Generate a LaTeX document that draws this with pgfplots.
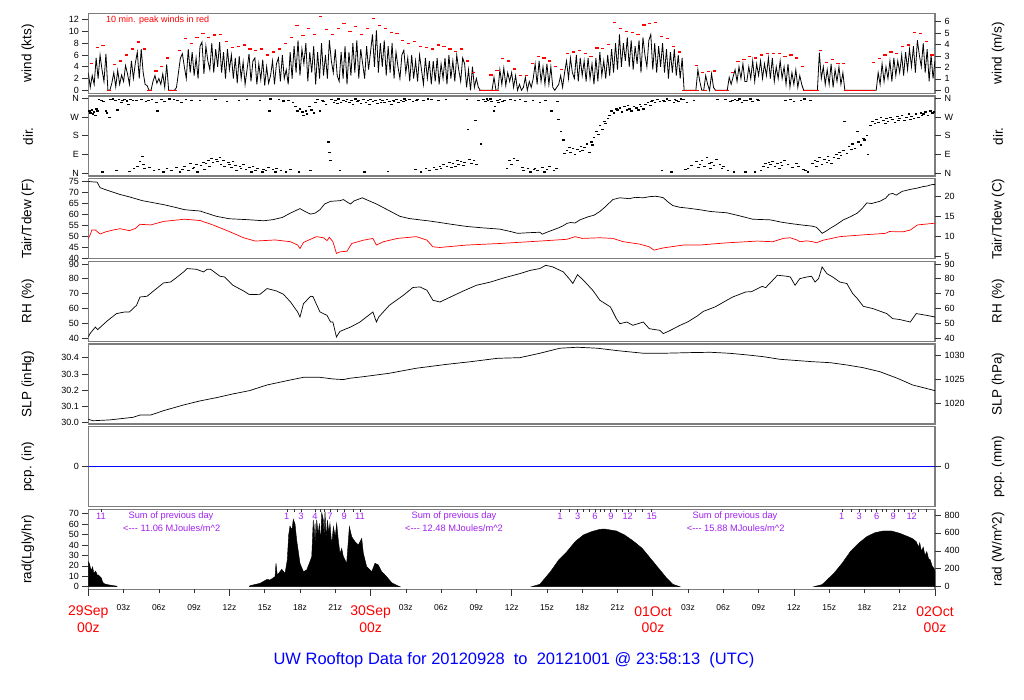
\documentclass[border=0pt]{standalone}
\usepackage{fontspec}
\setmainfont{Liberation Sans}
\usepackage{pgfplots}
\usepackage{pgfplotstable}
\pgfplotsset{compat=1.18}
\definecolor{framegray}{RGB}{125,125,125}
\definecolor{purp}{RGB}{160,32,240}
\newcommand\tf{\fontsize{9}{10}\selectfont}
\newcommand\lf{\fontsize{13.5}{15}\selectfont}
\pgfplotsset{
 base/.style={scale only axis, width=846.7pt, height=80pt, xmin=0, xmax=72, anchor=south west,
   enlargelimits=false, scaled y ticks=false, tick align=outside, major tick length=6pt,
   tick style={black!80, line width=0.6pt}, /pgf/number format/assume math mode=true,
   /pgf/number format/1000 sep={}, ticklabel style={font=\tf}},
 lpanel/.style={base, axis line style={framegray, line width=1.4pt}, xtick=\empty, ytick pos=left},
 rpanel/.style={base, hide x axis, axis y line*=right, axis line style={draw=none}},
 peak/.style={red, only marks, mark=-, mark size=1.6pt, mark options={line width=1.3pt}},
 zline/.style={red, line width=1.4pt},
}
\pgfplotstableread[row sep=\\]{v\\
3.0\\ 0.5\\ 2.5\\ 1.0\\ 5.5\\ 2.0\\
6.0\\ 3.5\\ 1.5\\ 6.2\\ 0\\ 0\\
1.2\\ 3.0\\ 0.6\\ 3.4\\ 1.0\\ 2.6\\
1.5\\ 4.2\\ 2.8\\ 1.0\\ 5.0\\ 2.0\\
4.6\\ 6.5\\ 2.0\\ 7.0\\ 3.0\\ 1.0\\
0.8\\ 0\\ 0\\ 1.5\\ 2.5\\ 1.2\\
2.0\\ 1.0\\ 2.8\\ 0.5\\ 4.4\\ 0\\
0\\ 0\\ 0\\ 0.5\\ 3.0\\ 5.5\\
6.2\\ 4.0\\ 2.0\\ 7.0\\ 3.0\\ 6.5\\
2.5\\ 5.5\\ 2.0\\ 7.5\\ 8.2\\ 2.8\\
7.5\\ 5.0\\ 3.5\\ 8.0\\ 3.0\\ 7.0\\
4.0\\ 8.2\\ 3.0\\ 6.5\\ 2.0\\ 7.0\\
3.5\\ 6.0\\ 2.0\\ 5.5\\ 1.2\\ 5.8\\
2.0\\ 4.8\\ 1.0\\ 3.5\\ 6.2\\ 1.5\\
5.0\\ 5.5\\ 1.0\\ 4.5\\ 1.8\\ 5.2\\
0.8\\ 4.0\\ 1.2\\ 2.5\\ 5.0\\ 1.0\\
4.5\\ 5.5\\ 1.5\\ 6.0\\ 2.0\\ 3.5\\
1.0\\ 6.5\\ 2.0\\ 7.5\\ 3.0\\ 8.5\\
2.5\\ 7.0\\ 4.5\\ 8.0\\ 1.5\\ 6.5\\
3.0\\ 7.5\\ 1.0\\ 6.5\\ 2.0\\ 8.0\\
2.5\\ 6.0\\ 2.0\\ 8.5\\ 5.0\\ 3.0\\
7.0\\ 2.5\\ 1.5\\ 6.5\\ 2.0\\ 7.5\\
1.0\\ 6.5\\ 2.5\\ 8.0\\ 3.0\\ 8.5\\
2.0\\ 7.0\\ 4.5\\ 2.0\\ 7.5\\ 3.5\\
6.5\\ 9.5\\ 4.0\\ 10.2\\ 3.0\\ 8.0\\
4.0\\ 8.5\\ 2.5\\ 7.5\\ 3.0\\ 8.0\\
2.0\\ 6.5\\ 4.0\\ 2.0\\ 6.0\\ 6.8\\
3.0\\ 5.5\\ 1.5\\ 6.0\\ 2.0\\ 5.0\\
1.5\\ 6.0\\ 3.5\\ 1.0\\ 5.5\\ 2.0\\
5.0\\ 1.0\\ 5.0\\ 1.5\\ 5.5\\ 1.0\\
4.5\\ 2.0\\ 5.5\\ 1.0\\ 6.0\\ 2.0\\
5.0\\ 1.5\\ 6.0\\ 3.5\\ 1.5\\ 5.5\\
4.5\\ 0.5\\ 3.5\\ 0\\ 4.0\\ 0.5\\
2.0\\ 0.5\\ 0\\ 0\\ 0\\ 0\\
0\\ 0\\ 0\\ 2.2\\ 0\\ 0\\
3.5\\ 1.0\\ 3.8\\ 0.8\\ 3.0\\ 1.5\\
3.0\\ 0.5\\ 2.5\\ 0\\ 1.0\\ 0\\
0.5\\ 2.2\\ 0\\ 1.5\\ 0.5\\ 2.0\\
4.5\\ 1.0\\ 5.0\\ 1.5\\ 4.0\\ 1.0\\
4.5\\ 1.0\\ 4.0\\ 0.5\\ 0\\ 0.5\\
1.0\\ 2.5\\ 0.5\\ 3.0\\ 5.0\\ 2.0\\
5.5\\ 3.0\\ 2.0\\ 6.0\\ 1.5\\ 5.5\\
2.5\\ 5.0\\ 1.5\\ 5.5\\ 2.0\\ 4.5\\
1.0\\ 5.5\\ 1.5\\ 6.5\\ 2.5\\ 5.0\\
2.0\\ 6.0\\ 2.5\\ 7.0\\ 3.0\\ 8.0\\
3.5\\ 9.5\\ 4.0\\ 8.0\\ 5.0\\ 9.0\\
4.0\\ 8.5\\ 3.5\\ 7.5\\ 4.5\\ 8.5\\
3.0\\ 9.0\\ 6.0\\ 4.0\\ 8.5\\ 9.5\\
3.5\\ 8.0\\ 3.0\\ 7.5\\ 4.0\\ 8.0\\
3.0\\ 7.0\\ 2.0\\ 6.5\\ 3.0\\ 7.0\\
2.5\\ 6.0\\ 2.0\\ 5.5\\ 0\\ 0\\
0\\ 0\\ 0\\ 0\\ 0\\ 3.5\\
1.5\\ 0\\ 0\\ 2.5\\ 1.0\\ 0\\
2.8\\ 0.5\\ 0\\ 0\\ 0\\ 0\\
0\\ 0\\ 0\\ 2.2\\ 1.0\\ 2.3\\
3.5\\ 1.5\\ 4.0\\ 2.0\\ 4.5\\ 1.5\\
1.5\\ 4.0\\ 2.0\\ 5.0\\ 1.5\\ 4.5\\
2.5\\ 5.0\\ 2.0\\ 4.5\\ 2.5\\ 5.5\\
2.0\\ 5.5\\ 1.5\\ 4.0\\ 2.0\\ 5.0\\
2.0\\ 4.0\\ 1.0\\ 4.5\\ 0.5\\ 3.0\\
1.0\\ 3.5\\ 0.5\\ 2.5\\ 1.0\\ 0\\
0\\ 0\\ 0\\ 0\\ 0\\ 0\\
0\\ 6.4\\ 2.0\\ 4.0\\ 1.0\\ 3.5\\
1.0\\ 4.5\\ 0.5\\ 3.5\\ 1.5\\ 4.0\\
1.0\\ 3.0\\ 0\\ 0\\ 0\\ 0\\
0\\ 0\\ 0\\ 0\\ 0\\ 0\\
0\\ 0\\ 0\\ 0\\ 0\\ 0\\
0\\ 3.0\\ 1.0\\ 4.5\\ 1.5\\ 4.0\\
2.0\\ 5.0\\ 1.5\\ 5.5\\ 2.5\\ 5.0\\
3.0\\ 6.0\\ 2.5\\ 6.5\\ 3.5\\ 7.0\\
4.0\\ 7.5\\ 3.0\\ 8.5\\ 6.0\\ 4.0\\
8.0\\ 3.0\\ 7.0\\ 1.5\\ 6.0\\ 2.0\\
5.0\\
}\windtab
\begin{document}
\begin{tikzpicture}
\path[use as bounding box] (0,0) rectangle (1024pt,700pt);
% ---------------- Panel 1: wind
\begin{axis}[lpanel, at={(88.3pt,606.7pt)}, ymin=-0.51, ymax=13.09, ytick={0,2,...,12}]
\addplot[black, line width=0.8pt] table[x expr=\coordindex/6, y index=0] \windtab;
\addplot[zline] coordinates {(1.6,0)(1.9,0)};
\addplot[zline] coordinates {(5.0,0)(5.4,0)};
\addplot[zline] coordinates {(6.8,0)(7.5,0)};
\addplot[zline] coordinates {(33.2,0)(34.9,0)};
\addplot[zline] coordinates {(50.5,0)(51.9,0)};
\addplot[zline] coordinates {(52.3,0)(52.6,0)};
\addplot[zline] coordinates {(53.3,0)(54.5,0)};
\addplot[zline] coordinates {(60.8,0)(62.1,0)};
\addplot[zline] coordinates {(64.3,0)(66.9,0)};
\addplot[peak] coordinates {
(0.25,4.6)(0.75,7.3)(1.25,7.6)(2.25,4.4)(2.75,5.0)(3.25,6.0)(3.75,7.0)(4.25,8.2)(4.75,7.0)(5.75,3.3)
(6.25,4.0)(6.75,5.5)(7.75,6.8)(8.25,8.8)(8.75,8.0)(9.25,9.0)(9.75,9.6)(10.25,9.0)(10.75,9.4)(11.25,9.5)
(11.75,8.3)(12.25,7.3)(12.75,7.5)(13.25,7.7)(13.75,7.0)(14.25,6.8)(14.75,7.0)(15.25,6.0)(15.75,6.5)(16.25,7.0)
(16.75,8.0)(17.25,9.0)(17.75,11.0)(18.25,9.3)(18.75,10.5)(19.25,9.5)(19.75,12.6)(20.25,10.3)(20.75,9.5)(21.25,10.5)
(21.75,11.4)(22.25,10.0)(22.75,10.9)(23.25,9.5)(23.75,10.5)(24.25,12.2)(24.75,11.0)(25.25,10.5)(25.75,9.8)(26.25,9.6)
(26.75,8.5)(27.25,8.0)(27.75,8.3)(28.25,7.5)(28.75,7.3)(29.25,7.0)(29.75,7.7)(30.25,7.5)(30.75,7.0)(31.25,6.6)
(31.75,7.0)(32.25,5.0)(32.75,3.0)(34.25,2.6)(34.75,3.4)(35.25,5.4)(35.75,5.0)(36.25,3.6)(36.75,2.5)(37.25,2.5)
(37.75,4.5)(38.25,5.7)(38.75,5.5)(39.25,5.0)(39.75,4.0)(40.25,3.5)(40.75,6.3)(41.25,6.5)(41.75,6.8)(42.25,6.3)
(42.75,5.7)(43.25,7.2)(43.75,7.1)(44.25,7.8)(44.75,11.5)(45.25,10.5)(45.75,10.0)(46.25,9.8)(46.75,9.5)(47.25,11.1)
(47.75,11.4)(48.25,11.5)(48.75,9.1)(49.25,8.8)(49.75,7.5)(50.25,6.5)(51.75,4.2)(52.25,3.0)(52.75,3.2)(53.25,3.3)
(54.75,3.0)(55.25,4.9)(55.75,5.2)(56.25,5.8)(56.75,5.5)(57.25,6.0)(57.75,6.2)(58.25,6.3)(58.75,6.3)(59.25,5.7)
(59.75,6.0)(60.25,5.5)(60.75,4.0)(62.25,6.8)(62.75,4.7)(63.25,5.2)(63.75,4.6)(64.25,4.6)(66.75,4.7)(67.25,5.4)
(67.75,6.0)(68.25,6.5)(68.75,6.3)(69.25,7.4)(69.75,7.7)(70.25,9.8)(70.75,9.7)(71.25,8.3)(71.75,6.0)};
\end{axis}
\begin{axis}[rpanel, at={(88.3pt,606.7pt)}, ymin=-0.262, ymax=6.734, ytick={0,1,...,6}]
\addplot[draw=none] coordinates {(0,0)};
\end{axis}
% ---------------- Panel 2: direction
\begin{axis}[lpanel, at={(88.3pt,524pt)}, ymin=-14.7, ymax=372.7, ytick={0,90,180,270,360}, yticklabels={N,E,S,W,N}]
\addplot[black, only marks, mark=-, mark size=1.3pt, mark options={line width=1.2pt}] coordinates {
(0.1,300)(0.2,290)(0.3,305)(0.4,285)(0.5,295)(0.6,280)(0.7,310)(0.8,300)(0.9,355)
(1.1,350)(1.2,5)(1.3,345)(1.5,300)(1.6,290)(1.8,270)(1.9,355)
(2.1,358)(2.3,350)(2.4,10)(2.5,305)(2.6,355)(2.8,340)(2.9,352)
(3.1,355)(3.3,348)(3.4,330)(3.5,8)(3.6,357)(3.8,352)(3.9,20)
(4.1,350)(4.2,30)(4.4,55)(4.5,355)(4.6,80)(4.7,40)(4.8,20)(4.9,345)
(5.1,350)(5.2,25)(5.4,356)(5.6,10)(5.8,340)(5.9,300)
(6.0,15)(6.2,355)(6.4,5)(6.5,345)(6.7,20)(6.9,358)
(7.1,10)(7.3,355)(7.5,25)(7.6,350)(7.8,5)(7.9,340)
(8.0,15)(8.2,30)(8.3,356)(8.5,10)(8.7,45)(8.8,352)(8.9,20)
(9.0,25)(9.2,40)(9.3,5)(9.5,350)(9.6,35)(9.8,50)(9.9,15)
(10.0,45)(10.2,60)(10.3,30)(10.5,70)(10.6,50)(10.8,355)(10.9,65)
(11.0,55)(11.2,75)(11.3,40)(11.5,60)(11.6,30)(11.8,345)(11.9,50)
(12.0,40)(12.2,25)(12.3,55)(12.5,35)(12.6,10)(12.8,350)(12.9,30)
(13.0,20)(13.2,40)(13.4,15)(13.5,355)(13.7,25)(13.9,5)
(14.0,30)(14.2,10)(14.4,20)(14.6,350)(14.8,5)(14.9,15)
(15.1,10)(15.3,25)(15.4,300)(15.5,358)(15.7,15)(15.9,5)
(16.0,20)(16.2,355)(16.4,10)(16.6,348)(16.8,5)
(17.0,350)(17.2,15)(17.4,340)(17.6,320)(17.8,300)(17.9,5)
(18.0,310)(18.2,295)(18.3,280)(18.5,300)(18.6,285)(18.8,320)(18.9,10)
(19.0,305)(19.2,290)(19.3,340)(19.5,355)(19.7,300)(19.9,350)
(20.0,345)(20.2,330)(20.4,150)(20.5,100)(20.6,60)(20.7,355)(20.9,340)
(21.0,350)(21.2,335)(21.3,358)(21.4,10)(21.5,340)(21.7,352)(21.9,345)
(22.0,355)(22.2,340)(22.4,350)(22.5,330)(22.7,358)(22.9,345)
(23.0,350)(23.2,335)(23.4,355)(23.5,5)(23.6,342)(23.8,350)(23.9,330)
(24.0,355)(24.2,345)(24.4,350)(24.6,338)(24.8,357)(24.9,342)
(25.0,350)(25.2,340)(25.4,356)(25.5,8)(25.6,345)(25.8,330)(25.9,352)
(26.0,348)(26.2,355)(26.4,340)(26.6,352)(26.8,345)(26.9,358)
(27.0,350)(27.3,356)(27.6,345)(27.8,15)(27.9,352)
(28.0,355)(28.3,5)(28.5,350)(28.7,20)(28.9,358)
(29.0,10)(29.2,355)(29.4,25)(29.6,15)(29.8,352)(29.9,30)
(30.0,20)(30.2,40)(30.4,355)(30.5,30)(30.7,50)(30.9,25)
(31.0,45)(31.2,30)(31.4,60)(31.5,40)(31.7,55)(31.9,35)
(32.0,50)(32.2,356)(32.3,210)(32.4,65)(32.6,45)(32.8,60)(32.9,255)
(33.0,40)(33.2,350)(33.4,140)(33.6,355)(33.8,345)(33.9,358)
(34.0,350)(34.2,358)(34.3,345)(34.5,300)(34.6,320)(34.8,352)(34.9,340)
(35.0,355)(35.2,345)(35.4,350)(35.6,20)(35.8,60)(35.9,355)
(36.0,40)(36.2,70)(36.3,350)(36.5,60)(36.7,355)(36.9,25)
(37.0,10)(37.2,345)(37.4,20)(37.6,5)(37.8,352)(37.9,15)
(38.0,20)(38.2,10)(38.4,340)(38.6,25)(38.8,5)(38.9,350)
(39.0,15)(39.2,30)(39.4,300)(39.6,10)(39.8,20)(39.9,345)
(40.0,260)(40.2,200)(40.4,160)(40.5,95)(40.7,110)(40.9,125)
(41.0,100)(41.2,120)(41.4,90)(41.6,115)(41.8,105)(41.9,130)
(42.0,110)(42.2,125)(42.4,140)(42.6,100)(42.8,150)(42.9,135)
(43.0,170)(43.2,200)(43.4,185)(43.5,230)(43.7,210)(43.9,250)
(44.0,240)(44.2,265)(44.3,280)(44.5,300)(44.7,290)(44.9,310)
(45.0,305)(45.2,315)(45.4,295)(45.6,320)(45.8,305)(45.9,325)
(46.0,310)(46.2,300)(46.4,320)(46.6,315)(46.8,305)(46.9,330)
(47.0,320)(47.2,310)(47.4,330)(47.6,340)(47.8,325)(47.9,345)
(48.0,350)(48.2,340)(48.4,355)(48.6,345)(48.8,10)(48.9,352)
(49.0,345)(49.2,358)(49.4,350)(49.6,5)(49.8,340)(49.9,355)
(50.0,350)(50.2,345)(50.4,358)(50.6,355)(50.8,15)(50.9,340)
(51.0,20)(51.3,35)(51.5,350)(51.7,55)(51.9,25)
(52.0,40)(52.2,60)(52.4,30)(52.6,75)(52.8,45)(52.9,20)
(53.0,50)(53.2,35)(53.4,65)(53.5,355)(53.7,40)(53.9,20)
(54.0,30)(54.2,355)(54.4,10)(54.6,345)(54.8,350)(54.9,5)
(55.0,355)(55.2,350)(55.4,358)(55.6,340)(55.8,352)(55.9,5)
(56.0,350)(56.3,358)(56.5,345)(56.7,5)(56.9,355)
(57.0,350)(57.2,10)(57.4,30)(57.6,45)(57.8,25)(57.9,50)
(58.0,40)(58.2,55)(58.4,30)(58.6,45)(58.8,20)(58.9,50)
(59.0,35)(59.2,60)(59.3,350)(59.5,40)(59.7,355)(59.9,25)
(60.0,345)(60.2,45)(60.4,30)(60.6,352)(60.8,15)(60.9,358)
(61.0,10)(61.2,5)(61.4,350)(61.6,45)(61.8,60)(61.9,30)
(62.0,55)(62.2,75)(62.4,40)(62.6,65)(62.8,50)(62.9,80)
(63.0,60)(63.2,45)(63.4,75)(63.6,90)(63.8,70)(63.9,100)
(64.0,85)(64.2,110)(64.3,250)(64.5,95)(64.7,130)(64.9,115)
(65.0,140)(65.2,120)(65.4,200)(65.5,150)(65.7,135)(65.9,165)
(66.0,160)(66.2,180)(66.3,90)(66.5,230)(66.7,250)(66.9,240)
(67.0,260)(67.2,245)(67.4,270)(67.6,255)(67.8,240)(67.9,265)
(68.0,250)(68.2,270)(68.4,260)(68.6,245)(68.8,275)(68.9,255)
(69.0,265)(69.2,280)(69.4,255)(69.6,270)(69.8,285)(69.9,260)
(70.0,275)(70.2,265)(70.4,285)(70.6,270)(70.8,290)(70.9,280)
(71.0,285)(71.2,295)(71.4,280)(71.6,300)(71.8,290)(71.9,295)};
\end{axis}
\begin{axis}[rpanel, at={(88.3pt,524pt)}, ymin=-14.7, ymax=372.7, ytick={0,90,180,270,360}, yticklabels={N,E,S,W,N}]
\addplot[draw=none] coordinates {(0,0)};
\end{axis}
% ---------------- Panel 3: Tair / Tdew
\begin{axis}[lpanel, at={(88.3pt,441.4pt)}, ymin=39.86, ymax=76.1, ytick={40,45,...,75}]
\addplot[black, line width=0.7pt] coordinates {
(0,74.8)(0.4,74.6)(0.75,74.5)(1.0,72.0)(1.5,71.0)(2.7,68.9)(3.5,67.8)(4.6,66.1)(5.5,65.2)(6.4,64.3)
(7.3,63.2)(8.2,62.0)(9.5,61.4)(10.9,59.0)(12.0,57.9)(13.5,57.5)(14.9,57.0)(15.7,57.5)(16.5,58.5)(17.2,60.5)
(17.8,62.0)(18.0,62.5)(18.5,61.0)(18.9,60.0)(19.3,60.5)(19.7,62.0)(20.1,64.6)(20.6,65.8)(21.4,66.1)(21.7,66.6)
(22.0,65.5)(22.3,64.6)(22.6,66.0)(23.0,66.8)(23.3,67.4)(23.8,66.2)(24.5,64.6)(25.5,61.8)(26.5,59.0)(27.3,58.0)
(28.2,57.4)(29.0,56.9)(29.9,56.2)(31.0,55.3)(32.2,54.4)(33.5,53.8)(35.0,53.2)(36.0,52.0)(36.5,51.3)(37.5,51.6)
(38.4,51.8)(38.6,50.9)(39.0,51.8)(39.5,52.8)(40.0,53.8)(40.4,54.8)(40.7,55.8)(41.0,56.2)(41.4,56.0)(41.8,57.4)
(42.5,58.8)(43.0,59.5)(43.5,61.2)(44.0,63.5)(44.6,66.6)(45.2,67.4)(46.0,67.0)(46.5,67.6)(47.2,67.4)(47.7,67.9)
(48.2,68.1)(48.6,67.8)(48.9,67.4)(49.3,65.5)(49.7,63.9)(50.3,63.1)(51.0,62.7)(52.0,62.0)(52.9,61.2)(54.3,60.6)
(55.4,59.2)(56.5,57.7)(58.0,57.4)(59.0,56.3)(59.9,55.6)(60.8,55.0)(61.5,54.6)(61.9,54.1)(62.2,52.5)(62.4,51.3)
(62.7,52.2)(63.1,53.6)(63.6,55.2)(64.2,57.4)(64.8,58.8)(65.4,60.5)(65.8,62.5)(66.2,65.1)(66.6,64.8)(67.3,65.8)
(67.8,67.2)(68.1,69.0)(68.4,69.4)(68.7,68.6)(69.2,70.3)(69.9,71.2)(70.5,71.8)(71.0,72.5)(71.3,72.7)(71.6,73.2)
(71.8,73.4)(72,73.5)};
\addplot[red, line width=0.7pt] coordinates {
(0,49.0)(0.15,50.5)(0.3,52.8)(0.6,52.8)(1.0,51.0)(1.5,52.0)(2.1,52.8)(2.7,53.4)(3.5,52.5)(4.0,53.5)
(4.4,55.4)(5.3,55.1)(6.4,56.7)(8.2,57.7)(9.5,57.1)(10.6,55.1)(12.0,52.1)(13.2,49.3)(14.2,47.8)(15.9,48.3)
(17.2,47.5)(17.8,46.0)(18.0,44.4)(18.3,47.2)(19.4,49.8)(20.0,49.3)(20.3,48.0)(20.5,49.5)(20.8,47.5)(21.1,42.2)
(21.4,42.9)(22.0,43.2)(22.4,46.7)(23.4,48.2)(24.2,49.0)(24.5,46.0)(25.1,47.5)(26.3,49.0)(27.9,49.8)(28.8,48.2)
(29.3,45.2)(29.9,44.9)(32.2,46.0)(35.0,46.7)(38.4,47.8)(40.7,48.6)(41.4,49.8)(42.0,49.0)(43.5,49.3)(44.6,49.0)
(45.5,47.5)(46.9,46.4)(47.7,45.2)(48.1,43.7)(48.9,44.7)(50.6,46.0)(52.0,46.0)(54.3,47.0)(56.9,47.8)(58.2,47.5)
(59.1,49.0)(59.7,49.3)(60.3,48.2)(60.5,47.5)(61.1,47.9)(61.6,47.5)(61.9,47.0)(62.5,48.2)(63.9,49.8)(65.6,50.5)
(67.8,51.3)(68.1,52.1)(69.3,52.0)(69.9,52.8)(70.5,55.1)(72,55.9)};
\end{axis}
\begin{axis}[rpanel, at={(88.3pt,441.4pt)}, ymin=4.367, ymax=24.5, ytick={5,10,15,20}]
\addplot[draw=none] coordinates {(0,10)};
\end{axis}
% ---------------- Panel 4: RH
\begin{axis}[lpanel, at={(88.3pt,358.7pt)}, ymin=37.8, ymax=91.8, ytick={40,50,...,90}]
\addplot[black, line width=0.7pt] coordinates {
(0,40.7)(0.15,43)(0.6,47.4)(0.8,45.7)(1.6,51.5)(2.4,56.5)(3.1,57.6)(3.5,57.6)(4.1,62.1)(4.4,67.7)
(5.0,68.2)(5.8,73.4)(6.4,77.2)(7.0,77.8)(7.5,80.8)(8.1,84.6)(8.4,86.9)(9.2,86.4)(9.8,84.6)(10.1,86.4)
(10.4,86.4)(11.2,81.7)(11.6,81.2)(12.3,75.6)(13.2,71.8)(13.7,69.3)(14.6,69.5)(15.2,73.4)(16.0,71.8)(16.6,69.5)
(17.2,64.3)(17.8,57.6)(18.0,54.2)(18.3,63.2)(18.9,68.2)(19.1,68.0)(19.7,57.6)(20.3,55.3)(20.6,50.8)(20.8,50.8)
(21.1,40.7)(21.4,44.5)(22.3,47.4)(23.1,50.8)(24.2,57.6)(24.5,50.8)(24.7,54.2)(25.6,62.1)(26.8,68.9)(27.6,74.1)
(28.2,74.5)(28.8,72.2)(29.3,65.5)(29.9,64.3)(30.8,67.7)(31.9,71.8)(33.0,75.6)(34.2,77.8)(35.3,80.5)(36.7,83.5)
(37.6,85.7)(38.4,86.9)(38.9,89.1)(39.5,88.0)(40.4,84.6)(41.0,79.0)(41.2,76.8)(41.6,82.8)(42.1,79.0)(42.9,72.2)
(43.5,65.5)(44.4,61.0)(44.9,53.1)(45.2,49.7)(45.8,50.8)(46.3,48.6)(47.2,50.8)(47.7,46.3)(48.6,45.2)(48.9,43.0)
(49.5,45.2)(50.3,48.5)(51.0,51.0)(51.8,55.0)(52.3,58.0)(53.3,61.0)(54.3,65.5)(54.8,67.7)(55.9,71.1)(56.4,71.3)
(57.3,74.9)(57.6,74.0)(58.2,79.0)(58.6,82.4)(59.4,81.7)(59.7,81.2)(60.1,75.6)(60.5,80.1)(61.1,81.2)(61.5,81.7)
(61.8,77.8)(62.1,80.1)(62.4,88.0)(62.8,83.5)(63.3,81.2)(63.9,77.8)(64.5,76.8)(65.0,70.0)(65.4,66.6)(65.9,61.4)
(66.7,59.9)(67.9,56.5)(68.4,53.1)(69.0,52.5)(69.9,50.8)(70.4,56.5)(71.3,55.3)(72,54.2)};
\end{axis}
\begin{axis}[rpanel, at={(88.3pt,358.7pt)}, ymin=37.8, ymax=91.8, ytick={40,50,...,90}]
\addplot[draw=none] coordinates {(0,50)};
\end{axis}
% ---------------- Panel 5: SLP
\begin{axis}[lpanel, at={(88.3pt,276pt)}, ymin=29.992, ymax=30.484, ytick={30.0,30.1,30.2,30.3,30.4},
  yticklabel style={/pgf/number format/.cd, fixed, fixed zerofill, precision=1}]
\addplot[black, line width=0.7pt] coordinates {
(0,30.021)(0.4,30.012)(1.8,30.017)(3.8,30.033)(4.4,30.047)(5.3,30.047)(6.4,30.074)(8.1,30.109)(9.5,30.134)(10.9,30.154)
(12.3,30.177)(13.7,30.197)(15.2,30.232)(17.2,30.263)(18.3,30.279)(19.7,30.279)(20.8,30.269)(21.7,30.265)(22.2,30.273)(23.4,30.283)
(25.6,30.304)(27.9,30.335)(30.5,30.359)(32.5,30.375)(34.8,30.396)(36.7,30.400)(38.4,30.427)(40.1,30.458)(41.6,30.464)(43.3,30.458)
(45.0,30.443)(47.2,30.427)(48.9,30.427)(51.2,30.431)(52.9,30.433)(54.5,30.427)(56.0,30.417)(57.4,30.406)(58.8,30.39)(60.3,30.382)
(61.6,30.375)(63.1,30.369)(64.5,30.355)(65.9,30.338)(67.3,30.314)(68.8,30.273)(70.1,30.232)(72,30.197)};
\end{axis}
\begin{axis}[rpanel, at={(88.3pt,276pt)}, ymin=1015.64, ymax=1032.3, ytick={1020,1025,1030}]
\addplot[draw=none] coordinates {(0,1020)};
\end{axis}
% ---------------- Panel 6: precipitation
\begin{axis}[lpanel, at={(88.3pt,193.3pt)}, ymin=-1, ymax=1, ytick={0}]
\addplot[blue, line width=0.7pt] coordinates {(0,0)(72,0)};
\end{axis}
\begin{axis}[rpanel, at={(88.3pt,193.3pt)}, ymin=-1, ymax=1, ytick={0}]
\addplot[draw=none] coordinates {(0,0)};
\end{axis}
% ---------------- Panel 7: radiation
\begin{axis}[lpanel, at={(88.3pt,110.7pt)}, ymin=-2.5, ymax=74.2, ytick={0,10,...,70}]
\addplot[fill=black, draw=black, line width=0.4pt] coordinates {
(0,24)(0.09,22.4)(0.18,18)(0.29,16)(0.37,19)(0.45,14)(0.51,12.8)(0.6,15)(0.71,13)(0.8,10)(0.85,11.2)
(0.99,9.6)(1.13,8)(1.2,5)(1.28,3.5)(1.42,2.5)(1.85,1.5)(2.41,0.5)(2.45,0)} \closedcycle;
\addplot[fill=black, draw=black, line width=0.4pt] coordinates {
(13.7,0)(13.75,1.0)(14.6,3.2)(15.2,7.0)(15.45,6.4)(15.88,9.6)(15.96,22.4)(16.07,11.2)(16.45,16.6)(16.73,12.8)
(16.92,25.6)(17.04,49.6)(17.15,58.2)(17.32,54.4)(17.43,64.6)(17.58,60.1)(17.72,44.7)(18.0,22.4)(18.29,14.4)(18.57,16)
(18.85,24)(19.0,28.8)(19.13,64)(19.2,45)(19.28,60.7)(19.35,40)(19.42,64)(19.55,50)(19.65,60.7)(19.75,42)
(19.85,71)(19.99,64)(20.05,48)(20.13,72)(20.23,45)(20.33,64)(20.45,52)(20.55,60.7)(20.7,40)(20.84,57.5)
(21.0,48)(21.12,60.7)(21.26,44.7)(21.4,31.9)(21.55,36.7)(21.69,28.8)(21.97,22.4)(22.2,57.5)(22.4,47.9)(22.68,43.1)
(22.96,39.9)(23.25,46.3)(23.39,31.9)(23.67,19.2)(24.1,14.4)(24.38,22.4)(24.66,20.8)(24.95,14.4)(25.37,9.6)(25.8,3.8)
(26.36,0.6)(26.5,0)} \closedcycle;
\addplot[fill=black, draw=black, line width=0.4pt] coordinates {
(37.7,0)(38.4,2.3)(39.3,14.4)(40.0,25.6)(40.7,33.6)(41.4,43.2)(42.1,49.6)(42.8,52.8)(43.5,55)(43.9,55.3)
(44.9,53.4)(45.6,49.6)(46.3,44.1)(47.1,36.8)(47.8,27.2)(48.5,17.6)(49.2,8)(49.7,2.3)(50.3,0)} \closedcycle;
\addplot[fill=black, draw=black, line width=0.4pt] coordinates {
(61.7,0)(62.4,2)(63.4,12.8)(64.1,22.4)(64.8,33.6)(65.5,41.6)(66.2,48)(66.9,51.8)(67.6,53.4)(68.3,53.4)
(69,51.2)(69.7,48)(70.1,46)(70.4,43.2)(70.6,38)(70.7,42)(70.85,34)(71.0,38)(71.15,30)(71.3,33.6)
(71.45,27)(71.6,25.6)(71.75,20)(71.9,17.6)(72,15)} \closedcycle;
\addplot[black!80, only marks, mark=|, mark size=1.6pt, mark options={line width=0.6pt}] coordinates {
(1.1,72.7)(16.9,72.7)(17.5,72.7)(18.1,72.7)(19.3,72.7)(19.7,72.7)(20.1,72.7)(20.6,72.7)(21.2,72.7)(21.8,72.7)(22.5,72.7)(23.1,72.7)
(40.1,72.7)(40.9,72.7)(41.6,72.7)(42.1,72.7)(42.6,72.7)(43.1,72.7)(43.5,72.7)(43.9,72.7)(44.4,72.7)(44.9,72.7)(45.4,72.7)
(45.9,72.7)(46.5,72.7)(47.1,72.7)(47.9,72.7)
(64.1,72.7)(64.9,72.7)(65.6,72.7)(66.1,72.7)(66.6,72.7)(67.0,72.7)(67.5,72.7)(67.9,72.7)(68.5,72.7)(68.9,72.7)(69.4,72.7)
(70.0,72.7)(70.6,72.7)(71.3,72.7)};
\end{axis}
\begin{axis}[rpanel, at={(88.3pt,110.7pt)}, ymin=-29.1, ymax=863, ytick={0,200,...,800}]
\addplot[draw=none] coordinates {(0,0)};
\end{axis}
% bottom time ticks
\begin{axis}[base, at={(88.3pt,110.7pt)}, hide y axis, axis x line*=bottom, axis line style={draw=none},
  ymin=0, ymax=1, xtick={0,12,...,72}, xticklabels={{},{},{},{},{},{},{}}, major tick length=7pt]
\addplot[draw=none] coordinates {(0,0)};
\end{axis}
\begin{axis}[base, at={(88.3pt,110.7pt)}, hide y axis, axis x line*=bottom, axis line style={draw=none},
  ymin=0, ymax=1, xtick={0,3,...,72}, major tick length=4pt,
  xticklabels={{},03z,06z,09z,12z,15z,18z,21z,{},03z,06z,09z,12z,15z,18z,21z,{},03z,06z,09z,12z,15z,18z,21z,{}},
  xticklabel style={font=\fontsize{8.5}{9}\selectfont, yshift=-7.5pt}]
\addplot[draw=none] coordinates {(0,0)};
\end{axis}
% ---------------- axis titles
\begin{scope}[every node/.style={font=\lf, rotate=90, anchor=center, inner sep=0pt}]
\node at (28pt,646.7pt) {wind (kts)};
\node at (28pt,563.7pt) {dir.};
\node at (28pt,481pt) {Tair/Tdew (F)};
\node at (28pt,399pt) {RH (\%)};
\node at (28pt,316pt) {SLP (inHg)};
\node at (28pt,233.3pt) {pcp. (in)};
\node at (28pt,150.7pt) {rad(Lgly/hr)};
\node at (998pt,646.7pt) {wind (m/s)};
\node at (998pt,563.7pt) {dir.};
\node at (998pt,481pt) {Tair/Tdew (C)};
\node at (998pt,399pt) {RH (\%)};
\node at (998pt,316pt) {SLP (hPa)};
\node at (998pt,233.3pt) {pcp. (mm)};
\node at (998pt,150.7pt) {rad (W/m\textasciicircum 2)};
\end{scope}
% annotations
\node[anchor=west, red, font=\fontsize{9}{10}\selectfont, inner sep=0pt] at (106pt,680pt) {10 min. peak winds in red};
\begin{scope}[every node/.style={purp, font=\fontsize{9.3}{10}\selectfont, inner sep=0pt}]
\node at (171pt,184pt) {Sum of previous day};
\node at (171.7pt,172.3pt) {<{-}{-}{-} 11.06 MJoules/m\textasciicircum 2};
\node at (454pt,184pt) {Sum of previous day};
\node at (454pt,172.3pt) {<{-}{-}{-} 12.48 MJoules/m\textasciicircum 2};
\node at (735pt,184pt) {Sum of previous day};
\node at (735.7pt,172.3pt) {<{-}{-}{-} 15.88 MJoules/m\textasciicircum 2};
\node at (101pt,184pt) {11};
\node at (286.7pt,184pt) {1};
\node at (301pt,184pt) {3};
\node at (315pt,184pt) {4};
\node at (330pt,184pt) {7};
\node at (344.3pt,184pt) {9};
\node at (360pt,184pt) {11};
\node at (560pt,184pt) {1};
\node at (577.7pt,184pt) {3};
\node at (595pt,184pt) {6};
\node at (611pt,184pt) {9};
\node at (627.7pt,184pt) {12};
\node at (651.7pt,184pt) {15};
\node at (841.7pt,184pt) {1};
\node at (859.3pt,184pt) {3};
\node at (876.7pt,184pt) {6};
\node at (893.3pt,184pt) {9};
\node at (911.7pt,184pt) {12};
\end{scope}
\begin{scope}[every node/.style={red, font=\fontsize{14}{16}\selectfont, inner sep=0pt}]
\node at (88.3pt,88.3pt) {29Sep};  \node at (88.3pt,72.3pt) {00z};
\node at (370.6pt,88.3pt) {30Sep}; \node at (370.6pt,72.3pt) {00z};
\node at (653pt,88.3pt) {01Oct};   \node at (653pt,72.3pt) {00z};
\node at (935pt,88.3pt) {02Oct};   \node at (935pt,72.3pt) {00z};
\end{scope}
\node[blue, font=\fontsize{16.5}{18}\selectfont, inner sep=0pt] at (514pt,40pt) {UW Rooftop Data for 20120928~~to~~20121001 @ 23:58:13~~(UTC)};
\end{tikzpicture}
\end{document}
